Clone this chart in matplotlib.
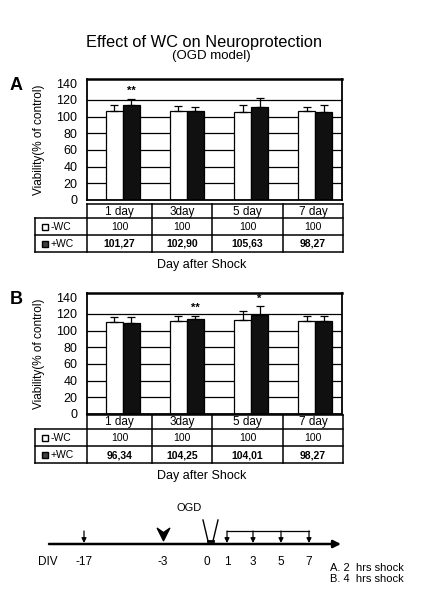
import numpy as np
import matplotlib.pyplot as plt
from matplotlib.path import Path

plt.rcParams['font.family'] = ['Liberation Sans', 'DejaVu Sans']

# Data
days = ['1 day', '3day', '5 day', '7 day']
row_names = ['-WC', '+WC']
ctrl_vals = ['100', '100', '100', '100']

# A: 2 hrs shock
a_ctrl = [106.5, 106.5, 105, 106.5]
a_ctrl_err = [7.5, 6.5, 9, 5.5]
a_wc = [114, 106.5, 111, 106]
a_wc_err = [7.5, 4.5, 11, 8]
a_stars = ['**', '', '', '']
a_table = ['101,27', '102,90', '105,63', '98,27']

# B: 4 hrs shock
b_ctrl = [110, 112, 113, 112]
b_ctrl_err = [6, 6, 10.5, 5]
b_wc = [108.5, 113.5, 118.5, 112]
b_wc_err = [7.5, 4.5, 11, 5]
b_stars = ['', '**', '*', '']
b_table = ['96,34', '104,25', '104,01', '98,27']

# timeline
tl_labels = ['-17', '-3', '0', '1', '3', '5', '7']
tl_pos = [84, 163, 207, 227, 253, 281, 309]

W, H = 428, 596
fig = plt.figure(figsize=(W / 100, H / 100), dpi=100)

# overlay in pixel coordinates for tables / timeline / text
ov = fig.add_axes([0, 0, 1, 1])
ov.set_xlim(0, W)
ov.set_ylim(H, 0)
ov.axis('off')

ov.text(204, 42, 'Effect of WC on Neuroprotection', ha='center', va='center', fontsize=11.8)
ov.text(211, 56, '(OGD model)', ha='center', va='center', fontsize=9.5)


def bar_panel(top, ctrl, ctrl_err, wc, wc_err, stars, letter):
    bottom = top + 121
    ax = fig.add_axes([87 / W, 1 - bottom / H, 255 / W, 121 / H])
    x = np.arange(len(days))
    w = 0.265
    for yv in range(20, 140, 20):
        ax.axhline(yv, color='black', lw=0.9, zorder=0)
    ax.bar(x - w / 2, ctrl, w, color='white', edgecolor='black', lw=0.9, zorder=2)
    ax.bar(x + w / 2, wc, w, color='#101010', edgecolor='black', lw=0.9, zorder=2)
    ax.errorbar(x - w / 2, ctrl, yerr=[np.zeros(4), ctrl_err], fmt='none',
                ecolor='black', elinewidth=0.9, capsize=3, capthick=0.9, zorder=3)
    ax.errorbar(x + w / 2, wc, yerr=[np.zeros(4), wc_err], fmt='none',
                ecolor='black', elinewidth=0.9, capsize=3, capthick=0.9, zorder=3)
    for i, s in enumerate(stars):
        if s:
            ax.text(x[i] + w / 2, wc[i] + wc_err[i] + 3, s, ha='center', va='bottom',
                    fontsize=8, fontweight='bold')
    ax.set_xlim(-0.56, 3.42)
    ax.set_ylim(0, 145)
    ax.set_yticks(range(0, 141, 20))
    ax.set_xticks([])
    ax.tick_params(axis='y', length=0, pad=7, labelsize=9)
    for sp in ax.spines.values():
        sp.set_linewidth(1.3)
    ax.spines['top'].set_linewidth(1.8)
    ax.set_ylabel('Viability(% of control)', fontsize=8.5)
    ax.yaxis.set_label_coords(-0.165, 0.5)
    ov.text(16, top + 6, letter, ha='center', va='center', fontsize=13, fontweight='bold')
    return ax


def table(top, wc_vals):
    cols = [87, 152, 212, 283, 343]
    r = [top, top + 14, top + 31, top + 48]
    lw = 1.1
    # header row
    ov.plot([cols[0], cols[-1]], [r[0], r[0]], color='black', lw=lw)
    for c in cols:
        ov.plot([c, c], [r[0], r[3]], color='black', lw=lw)
    for yy in r[1:]:
        ov.plot([35, cols[-1]], [yy, yy], color='black', lw=lw)
    ov.plot([35, 35], [r[1], r[3]], color='black', lw=lw)
    for i, d in enumerate(days):
        cx = (cols[i] + cols[i + 1]) / 2
        ov.text(cx, (r[0] + r[1]) / 2 + 0.5, d, ha='center', va='center', fontsize=8.5)
        ov.text(cx, (r[1] + r[2]) / 2 + 0.5, ctrl_vals[i], ha='center', va='center', fontsize=7.5)
        ov.text(cx, (r[2] + r[3]) / 2 + 0.5, wc_vals[i], ha='center', va='center', fontsize=7.5,
                fontweight='bold')
    ov.plot(45, (r[1] + r[2]) / 2, marker='s', ms=4.5, mfc='white', mec='black', mew=1)
    ov.plot(45, (r[2] + r[3]) / 2, marker='s', ms=4.5, mfc='#404040', mec='black', mew=1)
    ov.text(51, (r[1] + r[2]) / 2 + 0.5, row_names[0], ha='left', va='center', fontsize=7.5)
    ov.text(51, (r[2] + r[3]) / 2 + 0.5, row_names[1], ha='left', va='center', fontsize=7.5)
    ov.text(202, r[3] + 13, 'Day after Shock', ha='center', va='center', fontsize=9)


bar_panel(79, a_ctrl, a_ctrl_err, a_wc, a_wc_err, a_stars, 'A')
table(204, a_table)
bar_panel(293, b_ctrl, b_ctrl_err, b_wc, b_wc_err, b_stars, 'B')
table(415, b_table)

# timeline
y0 = 544
down = dict(arrowstyle='-|>', color='black', lw=0.9, mutation_scale=7, shrinkA=0, shrinkB=0)
ov.annotate('', xy=(341, y0), xytext=(49, y0),
            arrowprops=dict(arrowstyle='-|>', color='black', lw=1.8, mutation_scale=11,
                            shrinkA=0, shrinkB=0))
ov.text(48, 562, 'DIV', ha='center', va='center', fontsize=8.5)
for lab, px in zip(tl_labels, tl_pos):
    ov.text(px, 562, lab, ha='center', va='center', fontsize=8.5)
# seeding arrow
ov.annotate('', xy=(tl_pos[0], y0 - 1), xytext=(tl_pos[0], y0 - 13), arrowprops=down)
# WC chevron at -3
chev = Path([(-1, 1), (0, -1), (1, 1), (0, 0.3), (-1, 1)],
            [Path.MOVETO, Path.LINETO, Path.LINETO, Path.LINETO, Path.CLOSEPOLY])
ov.plot(tl_pos[1], 534, marker=chev, ms=9, color='black')
# OGD
ov.text(tl_pos[2] - 18, 508, 'OGD', ha='center', va='center', fontsize=8)
ov.plot([203, 208], [520, 541], color='black', lw=1)
ov.plot([218, 213], [520, 541], color='black', lw=1)
ov.plot([208, 213], [541, 541], color='black', lw=2)
# shock bracket
tops = tl_pos[3:]
ov.plot([tops[0], tops[-1]], [531, 531], color='black', lw=0.9)
for px in tops:
    ov.annotate('', xy=(px, y0 - 1), xytext=(px, 531), arrowprops=down)
ov.text(330, 568, 'A. 2  hrs shock', ha='left', va='center', fontsize=8)
ov.text(330, 579, 'B. 4  hrs shock', ha='left', va='center', fontsize=8)

fig.savefig('out.png', dpi=100)
